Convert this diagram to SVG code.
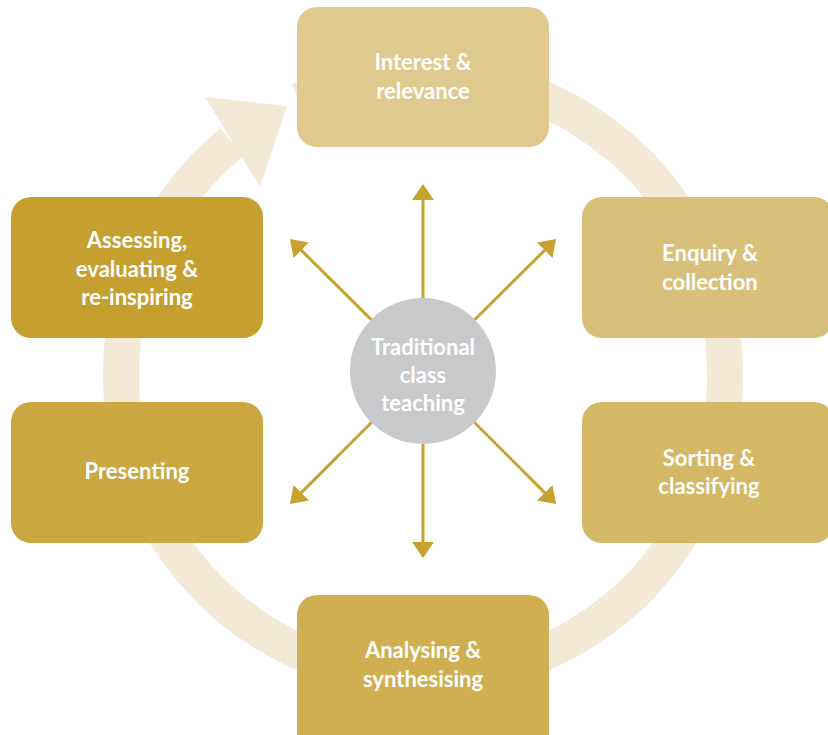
<svg xmlns="http://www.w3.org/2000/svg" width="828" height="735" viewBox="0 0 828 735">
<style>
.lbl{font-family:Lato,"Open Sans","DejaVu Sans",sans-serif;font-weight:700;font-size:22px;fill:#ffffff;text-anchor:middle}
.conn{stroke:#C8A22E;stroke-width:3;fill:none;marker-end:url(#ah)}
</style>
<defs>
<marker id="ah" markerUnits="userSpaceOnUse" viewBox="0 0 16 22" markerWidth="16" markerHeight="22" refX="2" refY="11" orient="auto">
<path d="M0,0 L16,11 L0,22 z" fill="#C8A22E"/>
</marker>
</defs>
<rect width="828" height="735" fill="#ffffff"/>
<g id="cycle">
<path d="M299.2,100.6 A302,302 0 1 1 231.8,142.3" fill="none" stroke="#F2EAD6" stroke-width="36"/>
<polygon points="205,97 287,106 260,187" fill="#F2EAD6"/>
</g>
<g id="connectors">
<line class="conn" x1="423" y1="371" x2="423" y2="198"/>
<line class="conn" x1="423" y1="371" x2="423" y2="544"/>
<line class="conn" x1="423" y1="371" x2="299.9" y2="248.9"/>
<line class="conn" x1="423" y1="371" x2="546.1" y2="248.9"/>
<line class="conn" x1="423" y1="371" x2="299.9" y2="494.1"/>
<line class="conn" x1="423" y1="371" x2="546.1" y2="494.1"/>
</g>
<g id="center">
<circle cx="423" cy="371" r="73" fill="#C8C9CB"/>
<text class="lbl" x="423" y="355">Traditional</text>
<text class="lbl" x="423" y="383">class</text>
<text class="lbl" x="423" y="411">teaching</text>
</g>
<g id="interest">
<rect x="297" y="7" width="252" height="140" rx="20" fill="#E0C98E"/>
<text class="lbl" x="423" y="70">Interest &amp;</text>
<text class="lbl" x="423" y="99">relevance</text>
</g>
<g id="enquiry">
<rect x="582" y="197" width="252" height="141" rx="20" fill="#D9C07A"/>
<text class="lbl" x="710" y="261">Enquiry &amp;</text>
<text class="lbl" x="710" y="290">collection</text>
</g>
<g id="sorting">
<rect x="582" y="402" width="252" height="141" rx="20" fill="#D4B866"/>
<text class="lbl" x="709" y="466">Sorting &amp;</text>
<text class="lbl" x="709" y="494">classifying</text>
</g>
<g id="analysing">
<rect x="297" y="595" width="252" height="160" rx="20" fill="#D0AF52"/>
<text class="lbl" x="423" y="658">Analysing &amp;</text>
<text class="lbl" x="423" y="687">synthesising</text>
</g>
<g id="presenting">
<rect x="11" y="402" width="252" height="141" rx="20" fill="#CAA740"/>
<text class="lbl" x="137" y="479">Presenting</text>
</g>
<g id="assessing">
<rect x="11" y="197" width="252" height="141" rx="20" fill="#C5A02F"/>
<text class="lbl" x="137" y="248">Assessing,</text>
<text class="lbl" x="137" y="277">evaluating &amp;</text>
<text class="lbl" x="137" y="305">re-inspiring</text>
</g>
</svg>
